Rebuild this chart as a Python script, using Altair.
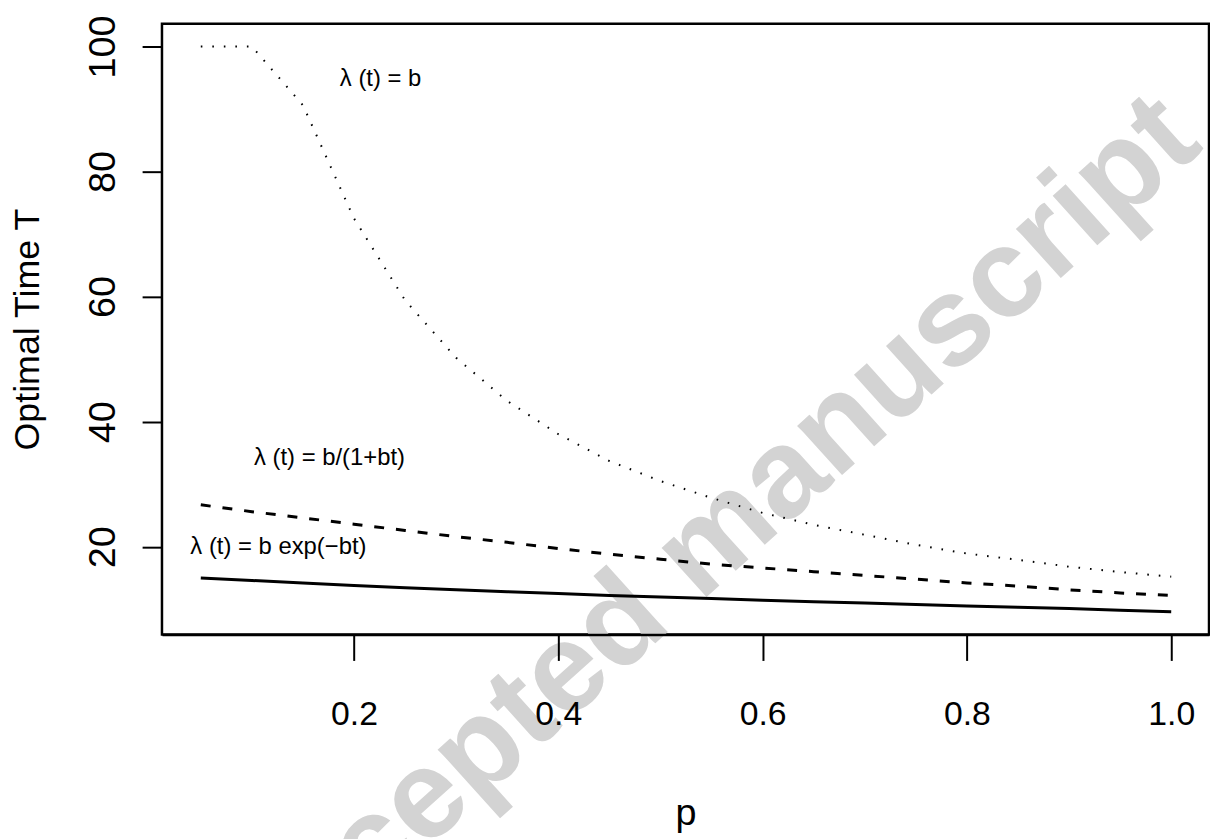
import altair as alt
import pandas as pd

# ---- data ----
p_vals = [0.05, 0.10, 0.15, 0.20, 0.25, 0.30, 0.35, 0.40, 0.45, 0.50,
          0.55, 0.60, 0.65, 0.70, 0.75, 0.80, 0.85, 0.90, 0.95, 1.00]
T_const = [100.0, 100.0, 90.6, 72.5, 59.4, 50.2, 43.3, 38.0, 33.7, 30.5,
           27.8, 25.4, 23.5, 21.9, 20.3, 18.9, 17.9, 16.8, 15.95, 15.2]
T_hyper = [26.7, 25.6, 24.6, 23.6, 22.6, 21.6, 20.7, 19.7, 18.8, 18.0,
           17.2, 16.6, 16.0, 15.4, 14.8, 14.2, 13.7, 13.1, 12.6, 12.2]
T_exp = [15.0, 14.6, 14.2, 13.8, 13.45, 13.1, 12.8, 12.5, 12.2, 11.95,
         11.7, 11.45, 11.2, 11.0, 10.75, 10.5, 10.3, 10.1, 9.85, 9.6]

label_text = ["λ (t) = b", "λ (t) = b/(1+bt)", "λ (t) = b exp(−bt)"]
label_p = [0.226, 0.176, 0.126]
label_T = [94.8, 34.2, 19.9]

x_ticks = [0.2, 0.4, 0.6, 0.8, 1.0]
y_ticks = [20, 40, 60, 80, 100]

watermark_text = ["Accepted manuscript"]
watermark_p = [0.542]
watermark_T = [19.6]

FONT = "Liberation Sans"

rows = []
for name, vals in [("const", T_const), ("hyper", T_hyper), ("exp", T_exp)]:
    for p, t in zip(p_vals, vals):
        rows.append({"p": p, "T": t, "series": name})
df = pd.DataFrame(rows)
labels_df = pd.DataFrame({"p": label_p, "T": label_T, "text": label_text})
wm_df = pd.DataFrame({"p": watermark_p, "T": watermark_T, "text": watermark_text})

xscale = alt.Scale(domain=[0.012, 1.037], nice=False, zero=False)
yscale = alt.Scale(domain=[5.94, 103.65], nice=False, zero=False)

xaxis = alt.Axis(values=x_ticks, format=".1f", title="p", grid=False,
                 domain=True, domainColor="black", domainWidth=2.5,
                 tickColor="black", tickWidth=2, tickSize=26,
                 labelFont=FONT, labelFontSize=34, labelColor="black",
                 labelBaseline="alphabetic", labelPadding=65,
                 labelFlush=False, labelOverlap=False,
                 titleFont=FONT, titleFontSize=38, titleFontWeight="normal",
                 titleColor="black", titleBaseline="alphabetic", titleY=191,
                 zindex=1)
yaxis = alt.Axis(values=y_ticks, format="d", title="Optimal Time T", grid=False,
                 domain=False, tickColor="black", tickWidth=2, tickSize=20,
                 labelFont=FONT, labelFontSize=38, labelColor="black",
                 labelAngle=270, labelAlign="center", labelBaseline="alphabetic",
                 labelPadding=28, labelFlush=False, labelOverlap=False,
                 titleFont=FONT, titleFontSize=36, titleFontWeight="normal",
                 titleColor="black", titleAngle=270, titleAlign="center",
                 titleBaseline="alphabetic", titleX=-124, titleY=307.5,
                 zindex=1)

base = alt.Chart(df)

watermark = alt.Chart(wm_df).mark_text(
    font=FONT, fontSize=127, fontWeight="bold", color="#d3d3d3",
    angle=318, align="center", baseline="middle"
).encode(
    x=alt.X("p:Q", scale=xscale, axis=xaxis),
    y=alt.Y("T:Q", scale=yscale, axis=yaxis),
    text="text:N",
)

line_const = base.transform_filter(alt.datum.series == "const").mark_line(
    color="black", strokeWidth=2, strokeDash=[1.6, 10], strokeCap="butt"
).encode(x=alt.X("p:Q", scale=xscale), y=alt.Y("T:Q", scale=yscale))

line_hyper = base.transform_filter(alt.datum.series == "hyper").mark_line(
    color="black", strokeWidth=3, strokeDash=[10, 12]
).encode(x=alt.X("p:Q", scale=xscale), y=alt.Y("T:Q", scale=yscale))

line_exp = base.transform_filter(alt.datum.series == "exp").mark_line(
    color="black", strokeWidth=3
).encode(x=alt.X("p:Q", scale=xscale), y=alt.Y("T:Q", scale=yscale))

labels = alt.Chart(labels_df).mark_text(
    font=FONT, fontSize=24, color="black", align="center", baseline="middle"
).encode(x=alt.X("p:Q", scale=xscale), y=alt.Y("T:Q", scale=yscale), text="text:N")

chart = alt.layer(watermark, line_const, line_hyper, line_exp, labels).properties(
    width=1054, height=615,
    autosize=alt.AutoSizeParams(type="none"),
    padding={"left": 155, "top": 13, "right": 1, "bottom": 203},
    background="white",
).configure_view(stroke="black", strokeWidth=2.5)

chart.save("out.html", embed_options={"renderer": "svg", "actions": False})
